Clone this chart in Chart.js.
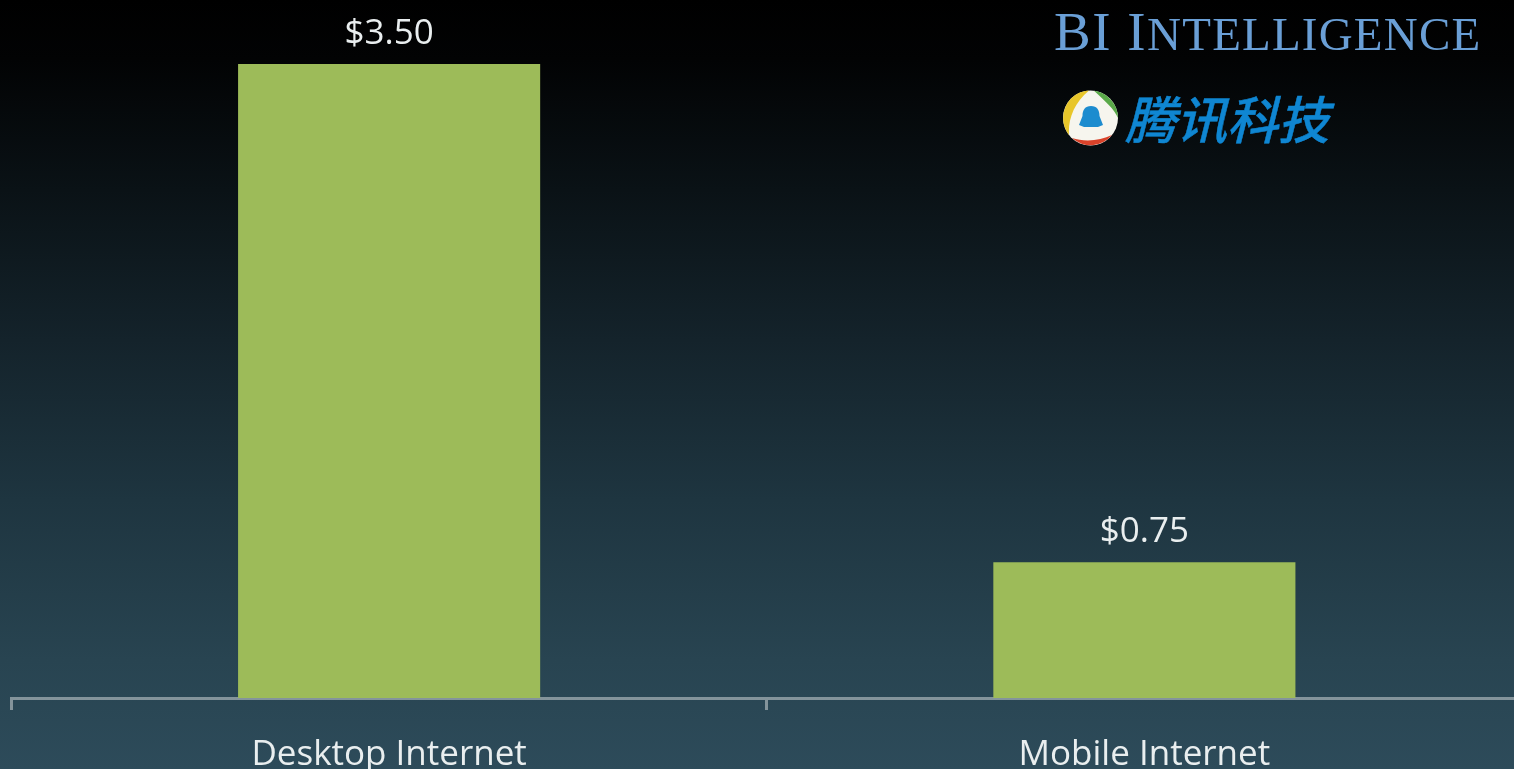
<!DOCTYPE html>
<html>
<head>
<meta charset="utf-8">
<title>Revenue per user: Desktop vs Mobile Internet</title>
<script src="https://cdn.jsdelivr.net/npm/chart.js@4"></script>
<style>
  html, body { margin: 0; padding: 0; width: 1514px; height: 769px; overflow: hidden; background: #000; }
  #wrap {
    position: relative; width: 1514px; height: 769px; overflow: hidden;
    background: linear-gradient(to bottom, #000 0px, #020304 60px, #0a1216 190px, #14232b 340px, #1e3540 500px, #284451 660px, #2d4b5a 769px);
  }
  #main-chart { position: absolute; left: 0; top: 0; }
  #brand {
    position: absolute; left: 1054px; top: 0px; color: #6a9fd6; white-space: nowrap;
    font: 55px "Liberation Serif", serif; line-height: 63px; letter-spacing: 1.5px;
  }
  #brand span { font-size: 47px; letter-spacing: 1.2px; }
  #tencent {
    position: absolute; left: 1125px; top: 86px; color: #0f86d2; white-space: nowrap;
    font: italic 500 51px "Noto Sans CJK SC", sans-serif; line-height: 62px;
    -webkit-text-stroke: 0.5px #0f86d2;
  }
  #logo { position: absolute; left: 1062px; top: 89px; }
</style>
</head>
<body>
<div id="wrap">
  <canvas id="main-chart" width="1530" height="769"></canvas>
  <div id="brand">BI I<span>NTELLIGENCE</span></div>
  <svg id="logo" width="58" height="58" viewBox="0 0 58 58">
    <defs><filter id="soft"><feGaussianBlur stdDeviation="0.6"/></filter></defs>
    <g filter="url(#soft)">
      <circle cx="28.5" cy="29" r="27.5" fill="#f6f5ee"/>
      <path d="M27 1.5 A27.5 27.5 0 0 0 7 46 C6 30 12 14 27 1.5 Z" fill="#e8c62a"/>
      <path d="M32 1.8 A27.5 27.5 0 0 1 56 29 C52 20 44 13 32 1.8 Z" fill="#5aa948"/>
      <path d="M10 49 A27.5 27.5 0 0 0 50 46 C38 52 22 53 10 49 Z" fill="#d9432a"/>
      <path d="M29 17 C23 17 20.5 21 20.5 27 L17 36 L22 38 L36 38 L41 36 L37.5 27 C37.5 21 35 17 29 17 Z" fill="#1f8ccf"/>
    </g>
  </svg>
  <div id="tencent">腾讯科技</div>
</div>
<script>
// ---- Data ----
const categories = ["Desktop Internet", "Mobile Internet"];
const revenueValues = [3.50, 0.75];
const valueLabels = ["$3.50", "$0.75"];

const BAR_COLOUR = "#9dbb59";
const AXIS_COLOUR = "#84949b";
const TEXT_COLOUR = "#e9eeef";
const FONT_FAMILY = '"Open Sans", sans-serif';

// Custom plugin: dollar labels above each bar
const valueLabelPlugin = {
  id: "valueLabels",
  afterDatasetsDraw(chart) {
    const ctx = chart.ctx;
    const bars = chart.getDatasetMeta(0).data;
    ctx.save();
    ctx.fillStyle = TEXT_COLOUR;
    ctx.font = "35px " + FONT_FAMILY;
    ctx.textAlign = "center";
    ctx.textBaseline = "alphabetic";
    bars.forEach((bar, i) => {
      ctx.fillText(valueLabels[i], bar.x, bar.y - 20);
    });
    ctx.restore();
  },
};

new Chart(document.getElementById("main-chart").getContext("2d"), {
  type: "bar",
  data: {
    labels: categories,
    datasets: [{
      data: revenueValues,
      backgroundColor: BAR_COLOUR,
      borderWidth: 0,
      categoryPercentage: 1,
      barPercentage: 0.4,
    }],
  },
  options: {
    responsive: false,
    animation: false,
    layout: { padding: { left: 11.5, right: 8, top: 0, bottom: 0 } },
    plugins: { legend: { display: false }, tooltip: { enabled: false } },
    scales: {
      x: {
        afterFit: (scale) => { scale.height = 71; },
        border: { color: AXIS_COLOUR, width: 3 },
        grid: { drawOnChartArea: false, drawTicks: true, tickLength: 12, color: AXIS_COLOUR, lineWidth: 3 },
        ticks: {
          color: TEXT_COLOUR,
          padding: 24,
          maxRotation: 0,
          font: { family: '"Open Sans", sans-serif', size: 35 },
        },
      },
      y: { display: false, min: 0, max: 3.853 },
    },
  },
  plugins: [valueLabelPlugin],
});
</script>
</body>
</html>
